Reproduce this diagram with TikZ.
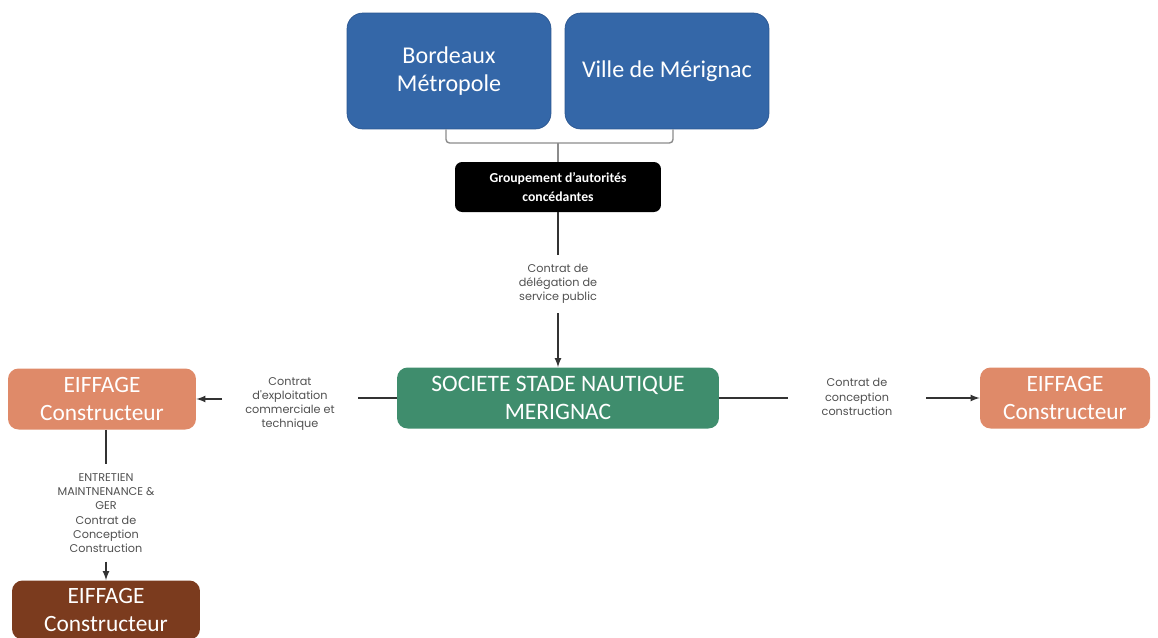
\documentclass[tikz,border=0pt]{standalone}
\usepackage{fontspec}
\setmainfont{Carlito}
\newfontfamily\lblfont{Poppins}
\usetikzlibrary{arrows}
\definecolor{cityblue}{HTML}{3467A8}
\definecolor{cityedge}{HTML}{2B5690}
\definecolor{spvgreen}{HTML}{3F8D6D}
\definecolor{eiforange}{HTML}{DF8A69}
\definecolor{eifbrown}{HTML}{7B3B1E}
\definecolor{lblgray}{HTML}{505050}
\tikzset{
  entity/.style={rounded corners=9pt, text=white, align=center, inner sep=0pt},
  label/.style={font=\lblfont\fontsize{6.4}{8.1}\selectfont, text=lblgray, align=center},
  link/.style={draw=black!80, line width=0.8pt}
}
\begin{document}
\begin{tikzpicture}[x=0.02cm,y=-0.02cm]
  \useasboundingbox (0,0) rectangle (1158,637);

  % autorites
  \node[entity, fill=cityblue, draw=cityedge, minimum width=4.08cm, minimum height=2.32cm,
        font=\fontsize{13.7}{15.5}\selectfont] (bm) at (449,71) {Bordeaux\\Métropole};
  \node[entity, fill=cityblue, draw=cityedge, minimum width=4.08cm, minimum height=2.32cm,
        font=\fontsize{13.7}{15.5}\selectfont] (vm) at (667,71) {Ville de Mérignac};
  \node[entity, fill=black, rounded corners=4pt, minimum width=4.12cm, minimum height=1cm,
        font=\bfseries\fontsize{7.8}{10.6}\selectfont] (grp) at (558,187) {Groupement d'autorités\\concédantes};

  \coordinate (join) at (558,143);
  \draw[link, draw=black!45, rounded corners=2pt] ([xshift=-1.7pt]bm.south) |- (join) -| ([xshift=3.4pt]vm.south);
  \draw[link, draw=black!45] (join) -- (grp.north);

  % societe de projet
  \node[entity, fill=spvgreen, rounded corners=6pt, minimum width=6.44cm, minimum height=1.22cm,
        font=\fontsize{13.4}{16.4}\selectfont] (soc) at (558,398) {SOCIETE STADE NAUTIQUE\\MERIGNAC};

  % constructeurs
  \node[entity, fill=eiforange, rounded corners=6pt, minimum width=3.76cm, minimum height=1.22cm,
        font=\fontsize{13.3}{15.8}\selectfont] (eifl) at (102,399) {EIFFAGE\\Constructeur};
  \node[entity, fill=eiforange, rounded corners=6pt, minimum width=3.4cm, minimum height=1.22cm,
        font=\fontsize{13.3}{15.8}\selectfont] (eifr) at (1065,398) {EIFFAGE\\Constructeur};
  \node[entity, fill=eifbrown, rounded corners=6pt, minimum width=3.76cm, minimum height=1.18cm,
        font=\fontsize{13.3}{15.8}\selectfont] (eifb) at (106,610) {EIFFAGE\\Constructeur};

  % contrats
  \node[label, inner xsep=2pt, inner ysep=5pt] (ldsp) at (558,284) {Contrat de\\délégation de\\service public};
  \node[label, inner xsep=13pt, inner ysep=2pt] (lexp) at (290,404) {Contrat\\d'exploitation\\commerciale et\\technique};
  \node[label, inner xsep=19pt, inner ysep=2pt] (lcc) at (857,397) {Contrat de\\conception\\construction};
  \node[label, inner xsep=2pt, inner ysep=5pt] (lger) at (106,513) {ENTRETIEN\\MAINTNENANCE \&\\GER\\Contrat de\\Conception\\Construction};

  \draw[link] (grp.south) -- (ldsp.north);
  \draw[link, -latex] (ldsp.south) -- (soc.north);
  \draw[link] (soc.west) -- (lexp.east |- soc.west);
  \draw[link, -latex] (lexp.west |- eifl.east) -- (eifl.east);
  \draw[link] (soc.east) -- (lcc.west |- soc.east);
  \draw[link, -latex] (lcc.east |- eifr.west) -- (eifr.west);
  \draw[link] (eifl.south -| lger.north) -- (lger.north);
  \draw[link, -latex] (lger.south) -- (eifb.north);
\end{tikzpicture}
\end{document}
